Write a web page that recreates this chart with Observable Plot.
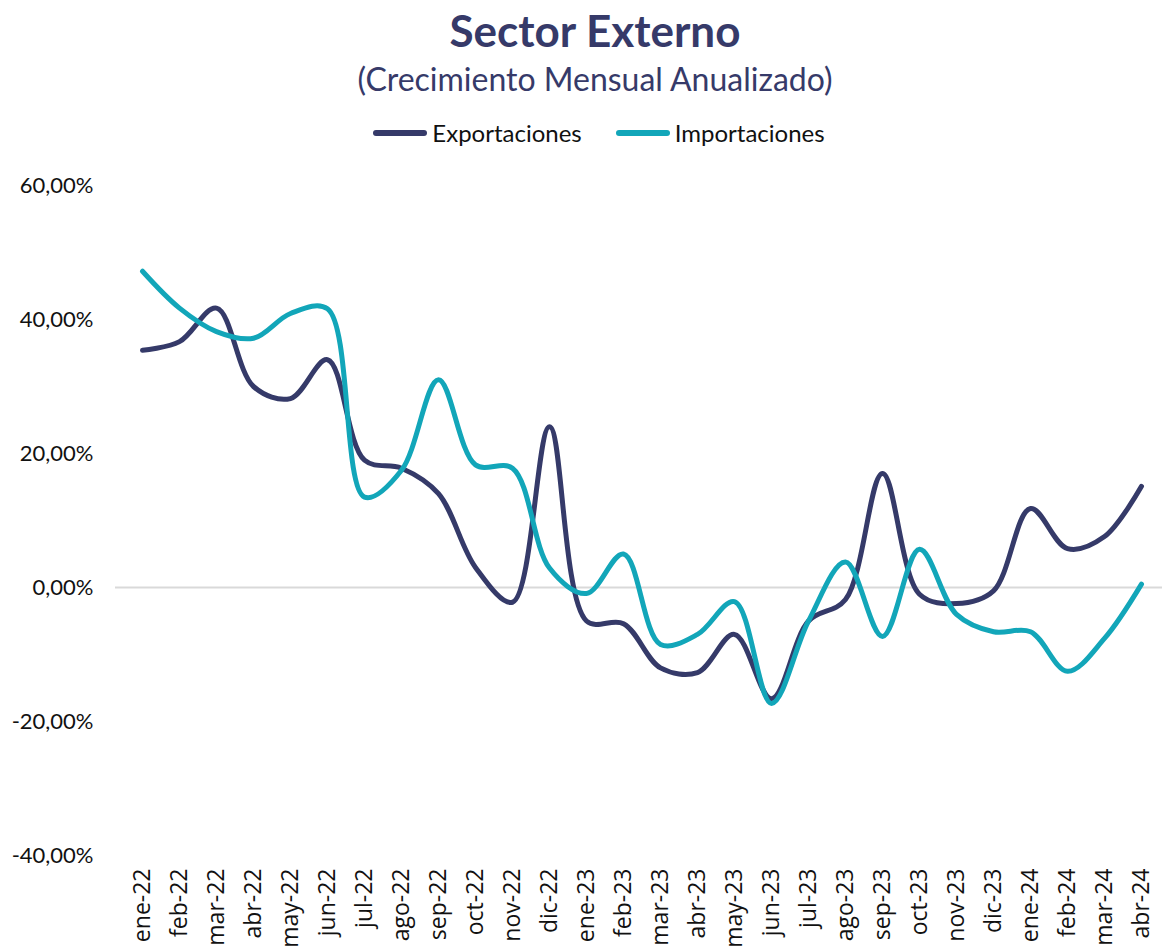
<!DOCTYPE html>
<html>
<head>
<meta charset="utf-8">
<script src="https://cdn.jsdelivr.net/npm/d3@7"></script>
<script src="https://cdn.jsdelivr.net/npm/@observablehq/plot@0.6"></script>
<style>
  body { margin: 0; background: #fff; }
  #wrap { width: 1162px; position: relative; }
  #header { position: relative; height: 160px; width: 1162px; }
  .t { position: absolute; left: 28px; right: 0; text-align: center; white-space: nowrap; line-height: 1; }
  #title { top: 4px; font: bold 44px Lato, sans-serif; color: #363a69; }
  #subtitle { top: 59px; font: 32px Lato, sans-serif; color: #363a69; }
  #legend { top: 118px; font: 24px Lato, sans-serif; color: #111; display: flex; justify-content: center; gap: 34px; left: 36px; }
  .item { display: flex; align-items: center; }
  .sw { width: 54px; height: 6px; border-radius: 3px; margin-right: 5px; }
</style>
</head>
<body>
<div id="wrap">
  <div id="header">
    <div id="title" class="t">Sector Externo</div>
    <div id="subtitle" class="t">(Crecimiento Mensual Anualizado)</div>
    <div id="legend" class="t"></div>
  </div>
  <div id="chart"></div>
</div>
<script>
const meses = ["ene-22","feb-22","mar-22","abr-22","may-22","jun-22","jul-22","ago-22","sep-22","oct-22","nov-22","dic-22",
               "ene-23","feb-23","mar-23","abr-23","may-23","jun-23","jul-23","ago-23","sep-23","oct-23","nov-23","dic-23",
               "ene-24","feb-24","mar-24","abr-24"];
const exportaciones = [35.4, 36.7, 41.7, 30.0, 28.2, 34.0, 19.0, 17.8, 14.0, 3.0, -2.2, 24.0,
                       -5.0, -5.4, -12.0, -12.7, -7.0, -16.6, -5.0, -1.8, 17.0, -1.0, -2.4, -0.5,
                       11.8, 5.8, 7.6, 15.1];
const importaciones = [47.2, 41.7, 38.2, 37.2, 40.9, 41.6, 13.5, 17.5, 31.0, 18.3, 17.8, 2.9,
                       -0.9, 5.0, -8.5, -7.0, -2.1, -17.3, -5.0, 3.8, -7.3, 5.7, -4.0, -6.6,
                       -6.6, -12.5, -7.6, 0.5];
const yTicks = [-40, -20, 0, 20, 40, 60];
const series = ["Exportaciones", "Importaciones"];
const colores = ["#353a69", "#12a6b9"];

const data = [];
meses.forEach((m, i) => {
  data.push({mes: m, serie: series[0], valor: exportaciones[i]});
  data.push({mes: m, serie: series[1], valor: importaciones[i]});
});

const legend = document.getElementById("legend");
series.forEach((s, i) => {
  const it = document.createElement("div");
  it.className = "item";
  it.innerHTML = `<span class="sw" style="background:${colores[i]}"></span><span>${s}</span>`;
  legend.appendChild(it);
});

const fmt = v => v.toFixed(2).replace(".", ",") + "%";

const chart = Plot.plot({
  width: 1162,
  height: 787,
  marginTop: 25,
  marginBottom: 92,
  marginLeft: 115,
  marginRight: 0,
  style: {fontFamily: "Lato, sans-serif", background: "#fff"},
  x: {type: "point", domain: meses, padding: 0, insetLeft: 20, insetRight: 14, label: null},
  y: {domain: [-40, 60], ticks: yTicks, label: null},
  color: {domain: series, range: colores},
  marks: [
    Plot.ruleY([0], {stroke: "#d9d9d9", strokeWidth: 2}),
    Plot.axisY({ticks: yTicks, tickFormat: fmt, tickSize: 0, tickPadding: 22, fontSize: 22, fill: "#111", label: null}),
    Plot.axisX({tickRotate: -90, tickSize: 0, tickPadding: 13, fontSize: 23, fill: "#111", label: null, fontFamily: "'Open Sans', sans-serif"}),
    Plot.line(data, {x: "mes", y: "valor", z: "serie", stroke: "serie", strokeWidth: 5, curve: "catmull-rom", strokeLinecap: "round", strokeLinejoin: "round"})
  ]
});
document.getElementById("chart").appendChild(chart);
</script>
</body>
</html>
